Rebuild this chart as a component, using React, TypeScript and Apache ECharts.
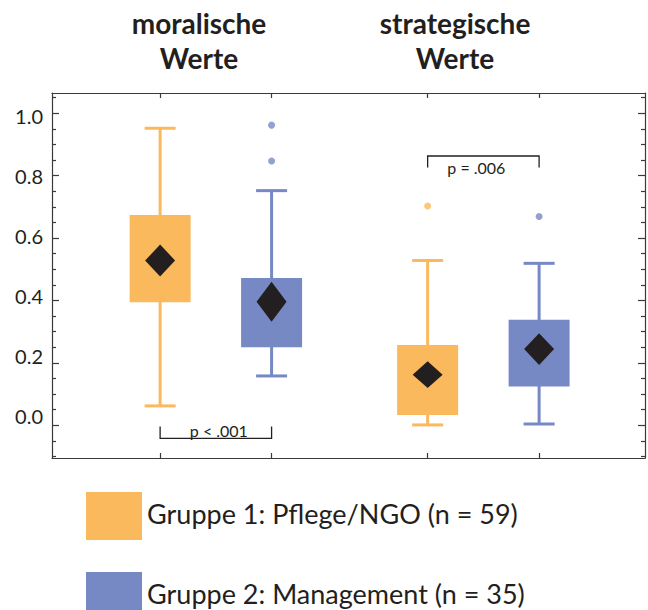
import React, { useEffect, useRef } from "react";
import * as echarts from "echarts";

// ---- data ----
const categories = ["moralische\nWerte", "strategische\nWerte"];
const seriesNames = ["Gruppe 1: Pflege/NGO (n = 59)", "Gruppe 2: Management (n = 35)"];

// x positions of the boxes (group 1 = orange, group 2 = blue)
const positionsG1 = [1, 3.4];
const positionsG2 = [2, 4.4];

// Gruppe 1 (orange)
const minG1 = [0.062, 0.001];
const q1G1 = [0.394, 0.033];
const q3G1 = [0.674, 0.257];
const maxG1 = [0.952, 0.528];
const meanG1 = [0.528, 0.162];
const meanCiG1 = [0.051, 0.043];
const outliersG1: number[][] = [[3.4, 0.703]];

// Gruppe 2 (blue)
const minG2 = [0.158, 0.004];
const q1G2 = [0.25, 0.124];
const q3G2 = [0.472, 0.338];
const maxG2 = [0.752, 0.519];
const meanG2 = [0.396, 0.244];
const meanCiG2 = [0.064, 0.051];
const outliersG2: number[][] = [[2, 0.962], [2, 0.847], [4.4, 0.669]];

// significance brackets
const bracketX1 = [1, 3.4];
const bracketX2 = [2, 4.4];
const bracketLine = [-0.042, 0.863];
const bracketEnd = [-0.004, 0.826];
const bracketLabels = ["p < .001", "p = .006"];

// axis ticks / labels
const yLabelValues = [0, 0.2, 0.4, 0.6, 0.8, 1.0];
const yMajorTicks = [0, 0.2, 0.4, 0.6, 0.8, 1.0];
const yMinorTicks = [-0.1, -0.05, 0.05, 0.1, 0.15, 0.25, 0.3, 0.35, 0.45, 0.5, 0.55, 0.65, 0.7, 0.75, 0.85, 0.9, 0.95, 1.05];
const xTickValues = [1, 2, 3.4, 4.4];

// ---- style ----
const ORANGE = "#FBB95D";
const BLUE = "#7689C5";
const DARK = "#231F20";
const FRAME = "#3A3A3A";
const FONT = "Lato";

const X_MIN = 0.03;
const X_MAX = 5.35;
const Y_MIN = -0.105;
const Y_MAX = 1.065;
const LABEL_Y_MIN = -0.1411;
const LABEL_Y_MAX = 1.0767;

function boxRows(pos: number[], mn: number[], q1: number[], q3: number[], mx: number[], mean: number[], ci: number[]) {
  return pos.map((p, i) => [p, mn[i], q1[i], q3[i], mx[i], mean[i], ci[i]]);
}

function makeBoxRender(color: string) {
  return (params: any, api: any) => {
    const x = api.value(0);
    const pMin = api.coord([x, api.value(1)]);
    const pQ1 = api.coord([x, api.value(2)]);
    const pQ3 = api.coord([x, api.value(3)]);
    const pMax = api.coord([x, api.value(4)]);
    const mean = api.value(5);
    const ci = api.value(6);
    const pMean = api.coord([x, mean]);
    const pTop = api.coord([x, mean + ci]);
    const pBot = api.coord([x, mean - ci]);
    const cx = pMin[0];
    const halfBox = 30.5;
    const halfCap = 15.5;
    const halfDiamond = 15;
    return {
      type: "group",
      children: [
        { type: "line", shape: { x1: cx, y1: pMin[1], x2: cx, y2: pMax[1] }, style: { stroke: color, lineWidth: 3 } },
        { type: "line", shape: { x1: cx - halfCap, y1: pMin[1], x2: cx + halfCap, y2: pMin[1] }, style: { stroke: color, lineWidth: 3 } },
        { type: "line", shape: { x1: cx - halfCap, y1: pMax[1], x2: cx + halfCap, y2: pMax[1] }, style: { stroke: color, lineWidth: 3 } },
        { type: "rect", shape: { x: cx - halfBox, y: pQ3[1], width: halfBox * 2, height: pQ1[1] - pQ3[1] }, style: { fill: color } },
        {
          type: "polygon",
          shape: { points: [[cx, pTop[1]], [cx + halfDiamond, pMean[1]], [cx, pBot[1]], [cx - halfDiamond, pMean[1]]] },
          style: { fill: DARK },
        },
      ],
    };
  };
}

function bracketRender(params: any, api: any) {
  const p1 = api.coord([api.value(0), api.value(2)]);
  const p2 = api.coord([api.value(1), api.value(2)]);
  const e1 = api.coord([api.value(0), api.value(3)]);
  const e2 = api.coord([api.value(1), api.value(3)]);
  const dir = e1[1] < p1[1] ? -1 : 1;
  const ty = dir < 0 ? p1[1] - 7.5 : p1[1] + 11.5;
  return {
    type: "group",
    children: [
      {
        type: "polyline",
        shape: { points: [[e1[0], e1[1]], [p1[0], p1[1]], [p2[0], p2[1]], [e2[0], e2[1]]] },
        style: { stroke: DARK, lineWidth: 1.3, fill: "none" },
      },
      {
        type: "text",
        x: (p1[0] + p2[0]) / 2 + (dir < 0 ? 3 : -7),
        y: ty,
        style: {
          text: bracketLabels[params.dataIndex],
          fontFamily: FONT,
          fontSize: 16,
          fill: DARK,
          align: "center",
          verticalAlign: "middle",
        },
      },
    ],
  };
}

const hiddenLabel = { show: false };
const noSplit = { show: false };

function yAxisBase(position: string, lineShow: boolean, ticks: number[], length: number) {
  return {
    type: "value",
    min: Y_MIN,
    max: Y_MAX,
    position,
    axisLine: { show: lineShow, onZero: false, lineStyle: { color: FRAME, width: 1.2 } },
    axisTick: { show: true, inside: true, length, customValues: ticks, lineStyle: { color: FRAME, width: 1.2 } },
    axisLabel: hiddenLabel,
    splitLine: noSplit,
  };
}

function xAxisBase(position: string) {
  return {
    type: "value",
    min: X_MIN,
    max: X_MAX,
    position,
    axisLine: { show: true, onZero: false, lineStyle: { color: FRAME, width: 1.2 } },
    axisTick: { show: true, inside: true, length: 5, customValues: xTickValues, lineStyle: { color: FRAME, width: 1.2 } },
    axisLabel: hiddenLabel,
    splitLine: noSplit,
  };
}

const legendTops = [487, 567];

export default function App() {
  const ref = useRef<HTMLDivElement>(null);
  useEffect(() => {
    if (!ref.current) return;
    const chart = echarts.init(ref.current, null, { renderer: "svg" });
    const titleX = [199, 455];
    chart.setOption({
      animation: false,
      backgroundColor: "#ffffff",
      grid: { left: 52, right: 3, top: 93, bottom: 152, containLabel: false },
      legend: seriesNames.map((name, i) => ({
        data: [name],
        orient: "vertical",
        left: 81,
        top: legendTops[i],
        itemWidth: 56,
        itemHeight: 48,
        icon: "rect",
        selectedMode: false,
        formatter: (n: string) => `{t|${n}}`,
        textStyle: {
          color: DARK,
          rich: {
            t: { fontFamily: FONT, fontSize: 27, lineHeight: 28, color: DARK, padding: [0, 0, 6, 0] },
          },
        },
      })),
      graphic: categories.map((c, i) => ({
        type: "text",
        x: titleX[i],
        y: 40,
        style: {
          text: c,
          fontFamily: FONT,
          fontWeight: "bold",
          fontSize: 28,
          lineHeight: 35,
          fill: DARK,
          align: "center",
          verticalAlign: "middle",
        },
      })),
      xAxis: [xAxisBase("bottom"), xAxisBase("top")],
      yAxis: [
        yAxisBase("left", true, yMajorTicks, 7),
        yAxisBase("left", false, yMinorTicks, 4),
        yAxisBase("right", true, yMajorTicks, 7),
        yAxisBase("right", false, yMinorTicks, 4),
        {
          type: "value",
          min: LABEL_Y_MIN,
          max: LABEL_Y_MAX,
          position: "left",
          axisLine: { show: false, onZero: false },
          axisTick: { show: false },
          splitLine: noSplit,
          axisLabel: {
            show: true,
            customValues: yLabelValues,
            formatter: (v: number) => v.toFixed(1),
            fontFamily: FONT,
            fontSize: 20,
            color: DARK,
            margin: 9,
          },
        },
      ],
      series: [
        {
          name: seriesNames[0],
          type: "custom",
          xAxisIndex: 0,
          yAxisIndex: 0,
          itemStyle: { color: ORANGE },
          encode: { x: 0, y: [1, 2, 3, 4] },
          data: boxRows(positionsG1, minG1, q1G1, q3G1, maxG1, meanG1, meanCiG1),
          renderItem: makeBoxRender(ORANGE),
        },
        {
          name: seriesNames[1],
          type: "custom",
          xAxisIndex: 0,
          yAxisIndex: 0,
          itemStyle: { color: BLUE },
          encode: { x: 0, y: [1, 2, 3, 4] },
          data: boxRows(positionsG2, minG2, q1G2, q3G2, maxG2, meanG2, meanCiG2),
          renderItem: makeBoxRender(BLUE),
        },
        {
          name: "Ausreißer 1",
          type: "scatter",
          xAxisIndex: 0,
          yAxisIndex: 0,
          symbolSize: 7,
          itemStyle: { color: ORANGE },
          data: outliersG1,
        },
        {
          name: "Ausreißer 2",
          type: "scatter",
          xAxisIndex: 0,
          yAxisIndex: 0,
          symbolSize: 7,
          itemStyle: { color: BLUE },
          data: outliersG2,
        },
        {
          name: "Signifikanz",
          type: "custom",
          xAxisIndex: 0,
          yAxisIndex: 0,
          encode: { x: [0, 1], y: [2, 3] },
          data: bracketX1.map((x1, i) => [x1, bracketX2[i], bracketLine[i], bracketEnd[i]]),
          renderItem: bracketRender,
        },
      ],
    });
    return () => chart.dispose();
  }, []);
  return <div ref={ref} style={{ position: "fixed", left: 0, top: 0, width: 648, height: 610 }} />;
}
